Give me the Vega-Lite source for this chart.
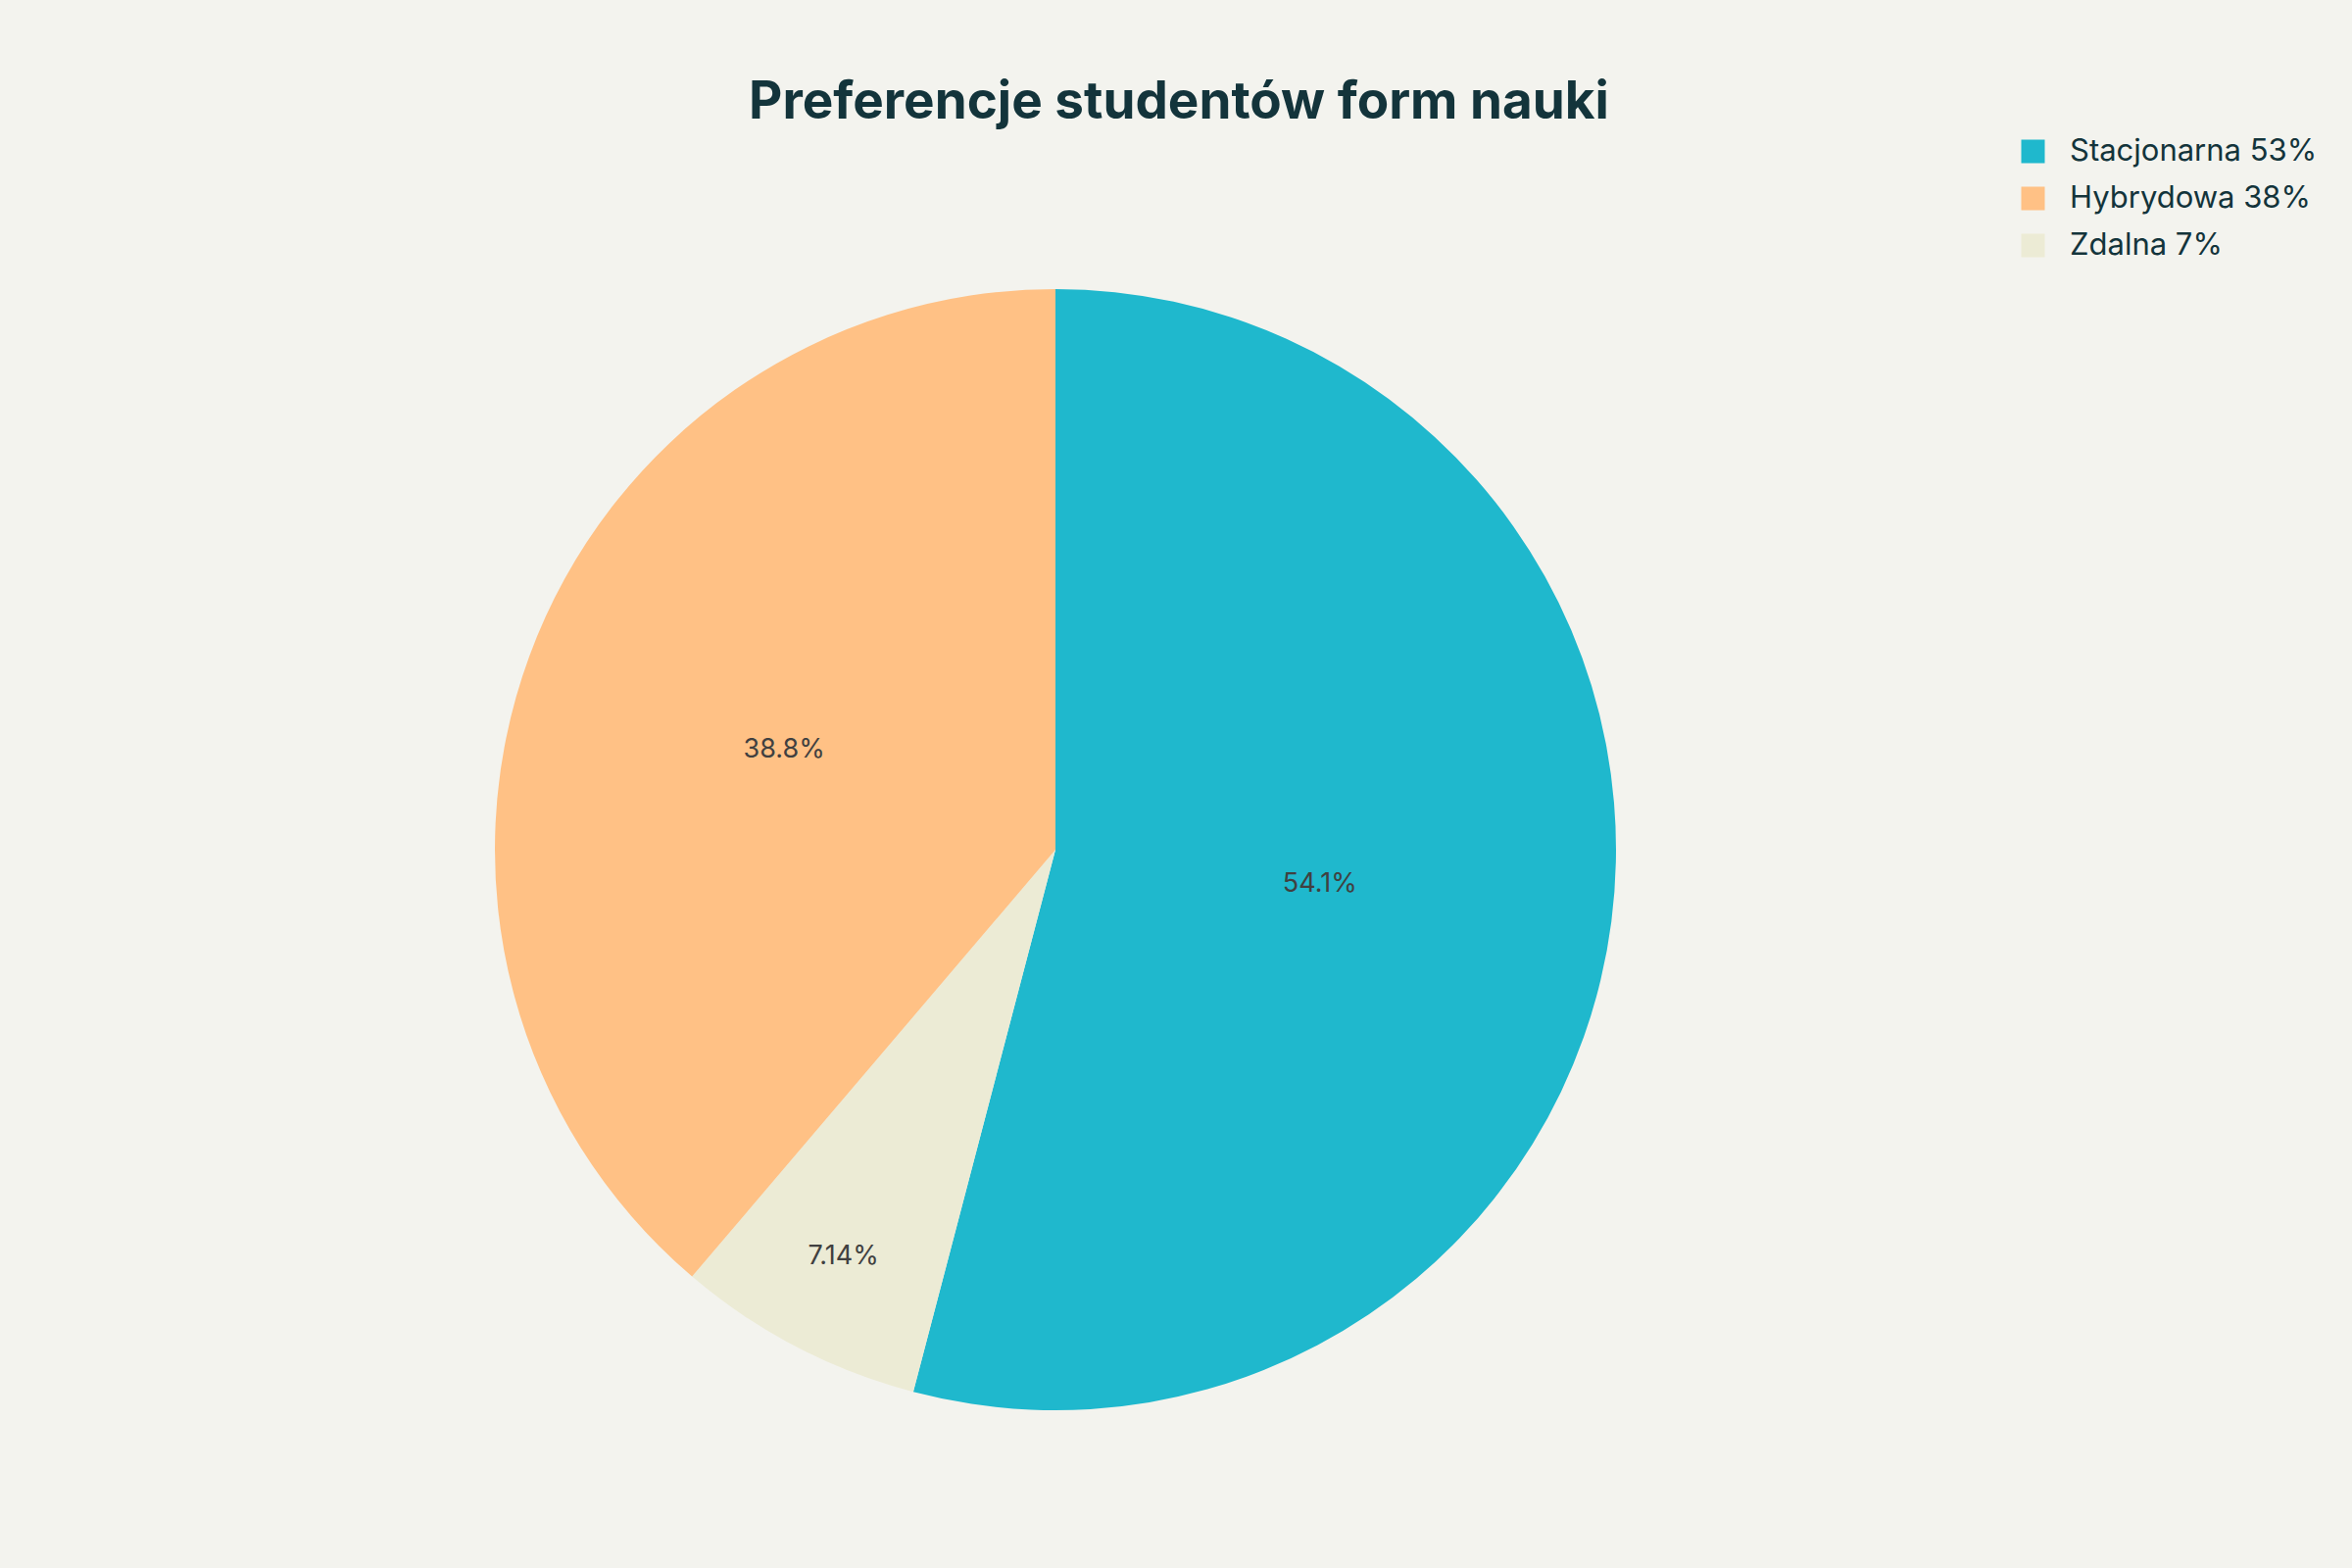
{
  "$schema": "https://vega.github.io/schema/vega-lite/v6.json",
  "autosize": {"type": "none"},
  "width": 2154,
  "height": 1466,
  "padding": {"left": 0, "top": 134, "right": 246, "bottom": 0},
  "background": "#F3F3EE",
  "title": {
    "text": "Preferencje studentów form nauki",
    "anchor": "middle",
    "dx": 126,
    "dy": 54,
    "offset": 14,
    "baseline": "alphabetic",
    "font": "Inter",
    "fontSize": 53,
    "fontWeight": "bold",
    "color": "#13343B"
  },
  "data": {
    "values": [
      {"forma": "Stacjonarna 53%", "wartosc": 53, "kolejnosc": 1},
      {"forma": "Zdalna 7%", "wartosc": 7, "kolejnosc": 2},
      {"forma": "Hybrydowa 38%", "wartosc": 38, "kolejnosc": 3}
    ]
  },
  "transform": [
    {"joinaggregate": [{"op": "sum", "field": "wartosc", "as": "suma"}]},
    {"calculate": "datum.wartosc / datum.suma", "as": "udzial"}
  ],
  "encoding": {
    "theta": {"field": "wartosc", "type": "quantitative", "stack": true},
    "order": {"field": "kolejnosc", "type": "quantitative"},
    "detail": {"field": "forma", "type": "nominal"}
  },
  "layer": [
    {
      "mark": {"type": "arc", "outerRadius": 572},
      "encoding": {
        "color": {
          "field": "forma",
          "type": "nominal",
          "scale": {
            "domain": ["Stacjonarna 53%", "Hybrydowa 38%", "Zdalna 7%"],
            "range": ["#1FB8CD", "#FFC185", "#ECEBD5"]
          },
          "legend": {
            "title": null,
            "orient": "none",
            "legendX": 2059,
            "legendY": 5,
            "symbolType": "square",
            "symbolSize": 576,
            "symbolStrokeWidth": 0,
            "labelFont": "Inter",
            "labelFontSize": 31,
            "labelColor": "#13343B",
            "labelLimit": 0,
            "labelOffset": 22,
            "rowPadding": 16,
            "padding": 0
          }
        }
      }
    },
    {
      "mark": {"type": "text", "radius": 272, "font": "Inter", "fontSize": 27, "color": "#404040"},
      "encoding": {
        "text": {"field": "udzial", "type": "quantitative", "format": ".3p"},
        "opacity": {"condition": {"test": "datum.forma === 'Stacjonarna 53%'", "value": 1}, "value": 0}
      }
    },
    {
      "mark": {"type": "text", "radius": 295, "font": "Inter", "fontSize": 27, "color": "#404040"},
      "encoding": {
        "text": {"field": "udzial", "type": "quantitative", "format": ".3p"},
        "opacity": {"condition": {"test": "datum.forma === 'Hybrydowa 38%'", "value": 1}, "value": 0}
      }
    },
    {
      "mark": {"type": "text", "radius": 468, "font": "Inter", "fontSize": 27, "color": "#404040"},
      "encoding": {
        "text": {"field": "udzial", "type": "quantitative", "format": ".3p"},
        "opacity": {"condition": {"test": "datum.forma === 'Zdalna 7%'", "value": 1}, "value": 0}
      }
    }
  ],
  "config": {"view": {"stroke": null}}
}
